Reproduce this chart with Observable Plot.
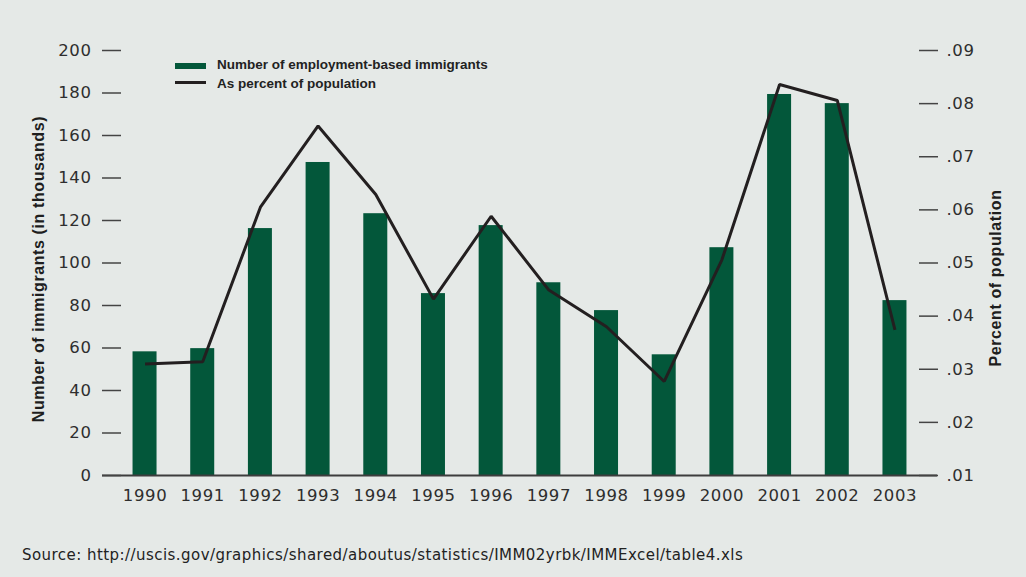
<!DOCTYPE html>
<html>
<head>
<meta charset="utf-8">
<script src="https://cdn.jsdelivr.net/npm/d3@7"></script>
<script src="https://cdn.jsdelivr.net/npm/@observablehq/plot@0.6"></script>
<style>
  html, body { margin: 0; padding: 0; background: #e5e9e7; }
  #wrap { position: relative; width: 1026px; height: 577px; overflow: hidden; background: #e5e9e7; }
  #chart { position: absolute; left: 0; top: 0; }
  .key-swatch { position: absolute; left: 175px; width: 31px; }
  .key-text { position: absolute; left: 217px; font: bold 13.5px "Liberation Sans", Arial, sans-serif; line-height: 13px; color: #222; white-space: nowrap; }
  #source { position: absolute; left: 22px; top: 548px; font: 15px "DejaVu Sans", sans-serif; letter-spacing: 0.45px; line-height: 14px; color: #222; white-space: nowrap; }
</style>
</head>
<body>
<div id="wrap">
  <div id="chart"></div>
  <div class="key-swatch" style="top:63px;height:6px;background:#03573a;"></div>
  <div class="key-text" style="top:58px;">Number of employment-based immigrants</div>
  <div class="key-swatch" style="top:81px;height:2.5px;background:#231f20;"></div>
  <div class="key-text" style="top:76.5px;">As percent of population</div>
  <div id="source">Source: http://uscis.gov/graphics/shared/aboutus/statistics/IMM02yrbk/IMMExcel/table4.xls</div>
</div>
<script>
// Employment-based immigrants, 1990–2003
const years = ["1990", "1991", "1992", "1993", "1994", "1995", "1996", "1997", "1998", "1999", "2000", "2001", "2002", "2003"];
const immigrantsThousands = [58.2, 59.7, 116.2, 147.3, 123.2, 85.6, 117.6, 90.7, 77.6, 56.8, 107.2, 179.3, 175.0, 82.3];
const percentOfPopulation = [0.0310, 0.0314, 0.0605, 0.0758, 0.0629, 0.0432, 0.0588, 0.0449, 0.0380, 0.0277, 0.0506, 0.0836, 0.0806, 0.0374];
const countTicks = [0, 20, 40, 60, 80, 100, 120, 140, 160, 180, 200];
const percentTicks = [0.01, 0.02, 0.03, 0.04, 0.05, 0.06, 0.07, 0.08, 0.09];

// The percent series shares the y scale: .01–.09 maps onto 0–200.
const pctLo = 0.01, pctHi = 0.09, countMax = 200;
const pctToY = p => (p - pctLo) / (pctHi - pctLo) * countMax;
const yToPct = y => pctLo + y / countMax * (pctHi - pctLo);
const pctFormat = v => d3.format(".2f")(v).replace(/^0/, "");

const rows = years.map((year, i) => ({year, count: immigrantsThousands[i], pct: percentOfPopulation[i]}));

const green = "#03573a";
const ink = "#2e2e2e";
const titleFont = "'Liberation Sans', Arial, sans-serif";

const chart = Plot.plot({
  width: 1026,
  height: 520,
  marginTop: 50,
  marginBottom: 45,
  marginLeft: 121,
  marginRight: 108,
  style: {background: "transparent", fontFamily: "'DejaVu Sans', sans-serif", fontSize: "16.5px", color: ink, letterSpacing: "0.6px"},
  x: {type: "band", domain: years, paddingInner: 0.584, paddingOuter: 0.2, align: 0.5, round: false, axis: null},
  y: {domain: [0, countMax], axis: null},
  marks: [
    Plot.barY(rows, {x: "year", y: "count", fill: green}),
    Plot.ruleY([0], {stroke: "#3d3d3d", strokeWidth: 2, insetLeft: -19, insetRight: -19}),
    Plot.line(rows, {x: "year", y: d => pctToY(d.pct), stroke: "#231f20", strokeWidth: 3, strokeLinejoin: "miter", strokeLinecap: "butt"}),
    Plot.axisX({tickSize: 0, tickPadding: 14, label: null, fontSize: 16.5}),
    Plot.axisY(countTicks, {anchor: "left", tickSize: 19, tickPadding: 11, strokeWidth: 1.5, stroke: "#444", label: null, fontSize: 16.5}),
    Plot.axisY(percentTicks.map(pctToY), {anchor: "right", tickSize: 19, tickPadding: 9, strokeWidth: 1.5, stroke: "#444", tickFormat: d => pctFormat(yToPct(d)), label: null, fontSize: 16.5}),
    Plot.text(["Number of immigrants (in thousands)"], {
      text: d => d, frameAnchor: "left", textAnchor: "middle", rotate: -90, dx: -83, dy: 6,
      fontFamily: titleFont, fontWeight: "bold", fontSize: 16, fill: "#1e1e1e"
    }),
    Plot.text(["Percent of population"], {
      text: d => d, frameAnchor: "right", textAnchor: "middle", rotate: -90, dx: 77, dy: 15,
      fontFamily: titleFont, fontWeight: "bold", fontSize: 16, fill: "#1e1e1e"
    })
  ]
});

document.getElementById("chart").appendChild(chart);
</script>
</body>
</html>
